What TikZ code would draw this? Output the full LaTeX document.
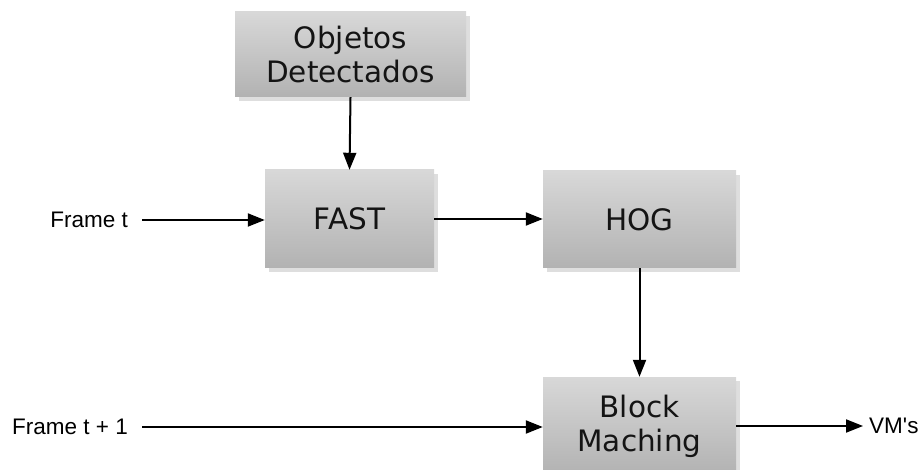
\documentclass[tikz,border=0pt]{standalone}
\usepackage{fontspec}
\setmainfont{Liberation Sans}
\newfontfamily\boxfont{DejaVu Sans}
\usetikzlibrary{arrows.meta,shadows}
\definecolor{boxtop}{HTML}{D8D8D8}
\definecolor{boxbottom}{HTML}{B2B2B2}
\definecolor{boxshadow}{HTML}{DEDEDE}
\tikzset{
  procbox/.style={rectangle, inner sep=0pt, align=center,
    top color=boxtop, bottom color=boxbottom, draw=none,
    drop shadow={shadow xshift=4pt, shadow yshift=-4pt, opacity=1, fill=boxshadow},
    font=\boxfont\fontsize{29.5}{34}\selectfont, text=black!92},
  sidelabel/.style={inner sep=0pt, font=\fontsize{22.5}{26}\selectfont},
  flow/.style={line width=2pt, -{Triangle[length=17pt,width=13pt]}},
}
\begin{document}
\begin{tikzpicture}[x=1pt,y=-1pt]
  \useasboundingbox (0,0) rectangle (923,470);
  % processing blocks
  \node[procbox, minimum width=231pt, minimum height=85pt] (obj) at (350.5,54.5) {Objetos\\Detectados};
  \node[procbox, minimum width=169pt, minimum height=98pt] (fast) at (349.5,219) {FAST};
  \node[procbox, minimum width=193pt, minimum height=97pt] (hog) at (639.5,219.5) {HOG};
  \node[procbox, minimum width=193pt, minimum height=98pt] (bm) at (639.5,426) {Block\\Maching};
  % inputs and output
  \node[sidelabel, anchor=east] (ft) at (128,220) {Frame t};
  \node[sidelabel, anchor=east] (ft1) at (128,427) {Frame t + 1};
  \node[sidelabel, anchor=west] (vm) at (869,426) {VM\textquotesingle s};
  % connectors
  \draw[flow] (obj.south) -- (fast.north);
  \draw[flow] ([xshift=14pt]ft.east) -- (ft.east -| fast.west);
  \draw[flow] (fast.east) -- (fast.east -| hog.west);
  \draw[flow] (hog.south) -- (bm.north);
  \draw[flow] ([xshift=14pt]ft1.east) -- (ft1.east -| bm.west);
  \draw[flow] (bm.east) -- ([xshift=-6pt]bm.east -| vm.west);
\end{tikzpicture}
\end{document}
